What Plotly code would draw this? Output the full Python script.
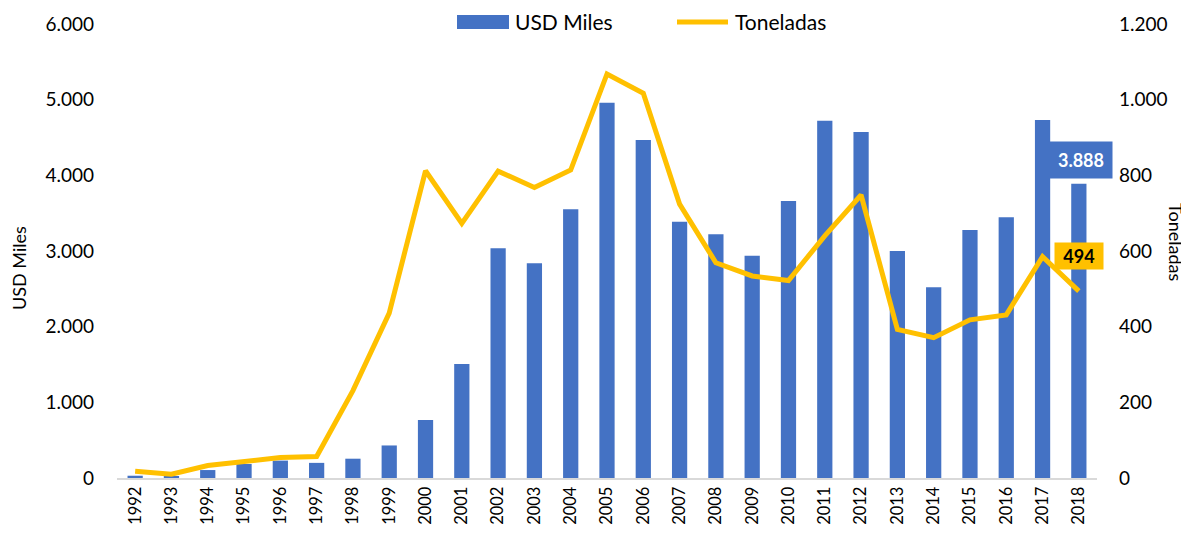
import plotly.graph_objects as go

years = list(range(1992, 2019))
usd_miles = [30, 25, 105, 185, 230, 200, 255, 430, 766, 1507, 3036, 2837, 3551, 4960,
             4467, 3387, 3220, 2938, 3661, 4722, 4572, 3000, 2520, 3277, 3445, 4731, 3888]
toneladas = [18, 10, 33, 45, 54, 57, 231, 436, 812, 673, 811, 768, 814, 1068,
             1017, 724, 569, 534, 522, 640, 748, 393, 371, 418, 431, 585, 494]
left_ticks = [0, 1000, 2000, 3000, 4000, 5000, 6000]
left_labels = ["0", "1.000", "2.000", "3.000", "4.000", "5.000", "6.000"]
right_ticks = [0, 200, 400, 600, 800, 1000, 1200]
right_labels = ["0", "200", "400", "600", "800", "1.000", "1.200"]

BLUE = "#4472C4"
GOLD = "#FFC000"
FONT = "Lato"

fig = go.Figure()
fig.add_trace(go.Bar(x=years, y=usd_miles, name="USD Miles", marker_color=BLUE,
                     marker_line_width=0, yaxis="y"))
fig.add_trace(go.Scatter(x=years, y=toneladas, name="Toneladas", mode="lines",
                         line=dict(color=GOLD, width=5), yaxis="y2"))

OFF = 8  # default page body margin
W, H = 1189 - OFF, 535 - OFF
# plot area in page pixels
PL, PR, PT, PB = 117, 1097, 24, 478
L, T = PL - OFF, PT - OFF
R = W - (PR - OFF)
B = H - (PB - OFF)
pw, ph = PR - PL, PB - PT

def px(xp):
    return (xp - PL) / pw

def py(yp):
    return (PB - yp) / ph

fig.update_layout(
    width=W, height=H,
    margin=dict(l=L, r=R, t=T, b=B, autoexpand=False),
    paper_bgcolor="white", plot_bgcolor="white",
    showlegend=False,
    bargap=0.58,
    font=dict(family=FONT, size=16, color="#000000"),
    xaxis=dict(range=[1991.5, 2018.5], tickmode="array", tickvals=years,
               ticktext=[str(y) for y in years], tickangle=-90,
               showgrid=False, showline=True, linecolor="#D9D9D9", linewidth=2,
               ticks="", zeroline=False, tickfont=dict(size=16.5), automargin=False),
    yaxis=dict(range=[0, 6000], tickmode="array", tickvals=left_ticks,
               ticktext=left_labels, showgrid=False, zeroline=False,
               showline=False, ticks="", ticklabelstandoff=22,
               tickfont=dict(size=19), automargin=False),
    yaxis2=dict(range=[0, 1200], tickmode="array", tickvals=right_ticks,
                ticktext=right_labels, overlaying="y", side="right",
                showgrid=False, zeroline=False, showline=False, ticks="",
                ticklabelstandoff=21, tickfont=dict(size=19), automargin=False),
)

annotations = [
    dict(x=2018, y=3888, xref="x", yref="y", text="<b>3.888</b>", showarrow=False,
         yanchor="middle", yshift=24, xshift=2, bgcolor=BLUE,
         font=dict(color="white", size=18), borderpad=0, width=62, height=36),
    dict(x=2018, y=494, xref="x", yref="y2", text="<b>494</b>",
         showarrow=False, yanchor="middle", yshift=35, bgcolor=GOLD,
         font=dict(color="black", size=18), borderpad=0, width=48, height=26),
    dict(x=px(19), y=py(268), xref="paper", yref="paper", text="USD Miles",
         showarrow=False, textangle=-90, xanchor="center", yanchor="middle",
         font=dict(size=18)),
    dict(x=px(1176), y=py(242), xref="paper", yref="paper", text="Toneladas",
         showarrow=False, textangle=90, xanchor="center", yanchor="middle",
         font=dict(size=18)),
    dict(x=px(513), y=py(21), xref="paper", yref="paper", text="USD Miles",
         showarrow=False, xanchor="left", yanchor="middle", font=dict(size=21)),
    dict(x=px(733), y=py(21), xref="paper", yref="paper", text="Toneladas",
         showarrow=False, xanchor="left", yanchor="middle", font=dict(size=21)),
]
fig.update_layout(annotations=annotations)

fig.update_layout(shapes=[
    dict(type="rect", xref="paper", yref="paper", x0=px(457), x1=px(509),
         y0=py(29), y1=py(15), fillcolor=BLUE, line_width=0),
    dict(type="line", xref="paper", yref="paper", x0=px(677), x1=px(728),
         y0=py(22), y1=py(22), line=dict(color=GOLD, width=5)),
])

fig.write_html("out.html")
